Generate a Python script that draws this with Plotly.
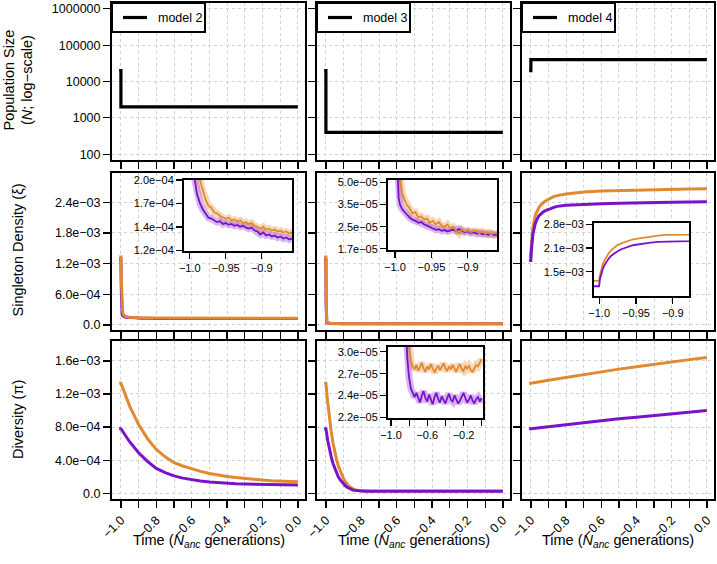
import plotly.graph_objects as go

W, H = 717, 564

# ---------------- data ----------------
model_names = ["model 2", "model 3", "model 4"]

# population size history (step function)
pop_time = [-1.01, -1.0, 0.0]
pop_m2 = [20000, 2000, 2000]
pop_m3 = [20000, 400, 400]
pop_m4 = [20000, 40000, 40000]

# singleton density, model 2
sd_time_m2 = [-1.01, -1.0, -0.998, -0.996, -0.993, -0.99, -0.986, -0.982, -0.978, -0.974,
              -0.97, -0.966, -0.962, -0.958, -0.954, -0.95, -0.946, -0.942, -0.938, -0.934,
              -0.93, -0.926, -0.922, -0.918, -0.914, -0.91, -0.906, -0.902, -0.898, -0.894,
              -0.89, -0.886, -0.882, -0.878, -0.874, -0.87, -0.866, -0.862, -0.858, -0.85,
              -0.8, -0.7, -0.6, -0.5, -0.4, -0.3, -0.2, -0.1, 0.0]
sd_orange_m2 = [1.33e-3, 1.33e-3, 9.0e-4, 5.5e-4, 3.2e-4, 2.45e-4, 2.0e-4, 1.84e-4, 1.72e-4, 1.64e-4,
                1.62e-4, 1.56e-4, 1.55e-4, 1.52e-4, 1.50e-4, 1.49e-4, 1.50e-4, 1.47e-4, 1.48e-4, 1.46e-4,
                1.47e-4, 1.44e-4, 1.45e-4, 1.43e-4, 1.44e-4, 1.41e-4, 1.40e-4, 1.38e-4, 1.40e-4, 1.37e-4,
                1.38e-4, 1.36e-4, 1.37e-4, 1.35e-4, 1.36e-4, 1.34e-4, 1.35e-4, 1.33e-4, 1.34e-4, 1.34e-4,
                1.33e-4, 1.32e-4, 1.31e-4, 1.31e-4, 1.30e-4, 1.30e-4, 1.30e-4, 1.29e-4, 1.29e-4]
sd_purple_m2 = [1.29e-3, 1.29e-3, 7.0e-4, 4.0e-4, 2.0e-4, 1.8e-4, 1.68e-4, 1.60e-4, 1.55e-4, 1.50e-4,
                1.49e-4, 1.47e-4, 1.45e-4, 1.46e-4, 1.43e-4, 1.44e-4, 1.42e-4, 1.43e-4, 1.41e-4, 1.42e-4,
                1.40e-4, 1.41e-4, 1.39e-4, 1.38e-4, 1.39e-4, 1.36e-4, 1.35e-4, 1.32e-4, 1.34e-4, 1.31e-4,
                1.32e-4, 1.30e-4, 1.31e-4, 1.29e-4, 1.30e-4, 1.28e-4, 1.29e-4, 1.27e-4, 1.28e-4, 1.28e-4,
                1.27e-4, 1.27e-4, 1.26e-4, 1.26e-4, 1.26e-4, 1.25e-4, 1.25e-4, 1.25e-4, 1.25e-4]

# singleton density, model 3
sd_time_m3 = [-1.01, -1.0, -0.999, -0.998, -0.997, -0.995, -0.993, -0.99, -0.987, -0.984,
              -0.98, -0.976, -0.972, -0.968, -0.964, -0.96, -0.956, -0.952, -0.948, -0.944,
              -0.94, -0.936, -0.932, -0.928, -0.924, -0.92, -0.916, -0.912, -0.908, -0.904,
              -0.9, -0.896, -0.892, -0.888, -0.884, -0.88, -0.876, -0.872, -0.868, -0.864,
              -0.86, -0.85, -0.8, -0.6, -0.4, -0.2, 0.0]
sd_orange_m3 = [1.33e-3, 1.33e-3, 6.0e-4, 2.5e-4, 1.2e-4, 6.5e-5, 5.0e-5, 4.2e-5, 3.8e-5, 3.5e-5,
                3.3e-5, 3.05e-5, 3.1e-5, 2.85e-5, 2.9e-5, 2.75e-5, 2.8e-5, 2.62e-5, 2.7e-5, 2.55e-5,
                2.65e-5, 2.5e-5, 2.45e-5, 2.55e-5, 2.4e-5, 2.45e-5, 2.3e-5, 2.2e-5, 2.35e-5, 2.28e-5,
                2.32e-5, 2.25e-5, 2.3e-5, 2.3e-5, 2.22e-5, 2.28e-5, 2.2e-5, 2.25e-5, 2.18e-5, 2.22e-5,
                2.2e-5, 2.2e-5, 2.15e-5, 2.1e-5, 2.08e-5, 2.05e-5, 2.05e-5]
sd_purple_m3 = [1.28e-3, 1.28e-3, 4.0e-4, 1.5e-4, 7.0e-5, 3.9e-5, 3.5e-5, 3.25e-5, 3.1e-5, 3.0e-5,
                2.85e-5, 2.75e-5, 2.7e-5, 2.62e-5, 2.65e-5, 2.55e-5, 2.5e-5, 2.45e-5, 2.4e-5, 2.34e-5,
                2.36e-5, 2.3e-5, 2.33e-5, 2.28e-5, 2.32e-5, 2.35e-5, 2.3e-5, 2.37e-5, 2.3e-5, 2.25e-5,
                2.28e-5, 2.22e-5, 2.25e-5, 2.2e-5, 2.23e-5, 2.18e-5, 2.2e-5, 2.16e-5, 2.2e-5, 2.15e-5,
                2.17e-5, 2.15e-5, 2.1e-5, 2.05e-5, 2.03e-5, 2.0e-5, 2.0e-5]

# singleton density, model 4
sd_time_m4 = [-1.01, -1.0, -0.999, -0.997, -0.995, -0.993, -0.99, -0.987, -0.984, -0.98,
              -0.975, -0.97, -0.965, -0.96, -0.955, -0.95, -0.945, -0.94, -0.93, -0.92,
              -0.91, -0.9, -0.89, -0.88, -0.87, -0.86, -0.85, -0.8, -0.75, -0.7,
              -0.6, -0.5, -0.4, -0.3, -0.2, -0.1, 0.0]
sd_orange_m4 = [1.35e-3, 1.35e-3, 1.45e-3, 1.58e-3, 1.68e-3, 1.75e-3, 1.85e-3, 1.93e-3, 2.0e-3, 2.07e-3,
                2.14e-3, 2.19e-3, 2.23e-3, 2.27e-3, 2.30e-3, 2.32e-3, 2.34e-3, 2.36e-3, 2.39e-3, 2.42e-3,
                2.44e-3, 2.46e-3, 2.47e-3, 2.49e-3, 2.51e-3, 2.52e-3, 2.53e-3, 2.56e-3, 2.58e-3, 2.60e-3,
                2.62e-3, 2.63e-3, 2.64e-3, 2.65e-3, 2.655e-3, 2.66e-3, 2.665e-3]
sd_purple_m4 = [1.26e-3, 1.26e-3, 1.38e-3, 1.50e-3, 1.58e-3, 1.65e-3, 1.73e-3, 1.80e-3, 1.86e-3, 1.92e-3,
                1.98e-3, 2.03e-3, 2.07e-3, 2.10e-3, 2.13e-3, 2.15e-3, 2.17e-3, 2.19e-3, 2.21e-3, 2.23e-3,
                2.25e-3, 2.26e-3, 2.27e-3, 2.29e-3, 2.30e-3, 2.31e-3, 2.32e-3, 2.34e-3, 2.35e-3, 2.36e-3,
                2.37e-3, 2.38e-3, 2.39e-3, 2.395e-3, 2.40e-3, 2.405e-3, 2.41e-3]

# diversity, model 2
dv_time_m2 = [-1.01, -1.0, -0.95, -0.9, -0.85, -0.8, -0.75, -0.7, -0.65, -0.6, -0.55,
              -0.5, -0.45, -0.4, -0.35, -0.3, -0.25, -0.2, -0.15, -0.1, -0.05, 0.0]
dv_orange_m2 = [1.33e-3, 1.33e-3, 1.05e-3, 8.3e-4, 6.6e-4, 5.3e-4, 4.4e-4, 3.7e-4, 3.3e-4, 2.95e-4, 2.65e-4,
                2.4e-4, 2.2e-4, 2.03e-4, 1.9e-4, 1.78e-4, 1.68e-4, 1.6e-4, 1.53e-4, 1.48e-4, 1.44e-4, 1.40e-4]
dv_purple_m2 = [7.8e-4, 7.8e-4, 6.2e-4, 4.9e-4, 3.85e-4, 3.0e-4, 2.5e-4, 2.1e-4, 1.83e-4, 1.63e-4, 1.48e-4,
                1.37e-4, 1.28e-4, 1.2e-4, 1.15e-4, 1.11e-4, 1.08e-4, 1.05e-4, 1.03e-4, 1.02e-4, 1.01e-4, 1.0e-4]

# diversity, model 3
dv_time_m3 = [-1.01, -1.0, -0.99, -0.98, -0.97, -0.96, -0.95, -0.94, -0.93, -0.92,
              -0.91, -0.9, -0.89, -0.88, -0.87, -0.86, -0.85, -0.84, -0.82, -0.8,
              -0.78, -0.76, -0.74, -0.72, -0.7, -0.68, -0.66, -0.64, -0.62, -0.6,
              -0.58, -0.56, -0.54, -0.52, -0.5, -0.48, -0.46, -0.44, -0.42, -0.4,
              -0.38, -0.36, -0.34, -0.32, -0.3, -0.28, -0.26, -0.24, -0.22, -0.2,
              -0.18, -0.16, -0.14, -0.12, -0.1, -0.08, -0.06, -0.04, -0.02, 0.0]
dv_orange_m3 = [133e-5, 133e-5, 110e-5, 90e-5, 74e-5, 61e-5, 50e-5, 41e-5, 33e-5, 27e-5,
                22e-5, 17.5e-5, 14e-5, 11e-5, 8.7e-5, 6.9e-5, 5.5e-5, 4.6e-5, 3.5e-5, 3.05e-5,
                2.88e-5, 2.80e-5, 2.76e-5, 2.82e-5, 2.74e-5, 2.79e-5, 2.85e-5, 2.77e-5, 2.73e-5, 2.80e-5,
                2.76e-5, 2.83e-5, 2.78e-5, 2.72e-5, 2.77e-5, 2.81e-5, 2.75e-5, 2.79e-5, 2.84e-5, 2.77e-5,
                2.74e-5, 2.80e-5, 2.76e-5, 2.82e-5, 2.78e-5, 2.73e-5, 2.79e-5, 2.83e-5, 2.76e-5, 2.74e-5,
                2.80e-5, 2.77e-5, 2.81e-5, 2.75e-5, 2.73e-5, 2.78e-5, 2.82e-5, 2.80e-5, 2.86e-5, 2.90e-5]
dv_purple_m3 = [78e-5, 78e-5, 64e-5, 53e-5, 44e-5, 36e-5, 30e-5, 25e-5, 20e-5, 16.5e-5,
                13.5e-5, 11e-5, 9e-5, 7.3e-5, 6.0e-5, 4.9e-5, 4.1e-5, 3.5e-5, 2.9e-5, 2.65e-5,
                2.52e-5, 2.46e-5, 2.42e-5, 2.47e-5, 2.40e-5, 2.36e-5, 2.44e-5, 2.49e-5, 2.41e-5, 2.37e-5,
                2.45e-5, 2.39e-5, 2.34e-5, 2.42e-5, 2.47e-5, 2.40e-5, 2.36e-5, 2.43e-5, 2.38e-5, 2.35e-5,
                2.41e-5, 2.46e-5, 2.39e-5, 2.37e-5, 2.44e-5, 2.40e-5, 2.35e-5, 2.38e-5, 2.43e-5, 2.47e-5,
                2.41e-5, 2.36e-5, 2.39e-5, 2.44e-5, 2.38e-5, 2.35e-5, 2.40e-5, 2.42e-5, 2.37e-5, 2.41e-5]

# diversity, model 4
dv_time_m4 = [-1.01, -1.0, -0.9, -0.8, -0.7, -0.6, -0.5, -0.4, -0.3, -0.2, -0.1, 0.0]
dv_orange_m4 = [1.33e-3, 1.33e-3, 1.365e-3, 1.40e-3, 1.435e-3, 1.47e-3, 1.50e-3, 1.53e-3, 1.56e-3, 1.59e-3, 1.615e-3, 1.64e-3]
dv_purple_m4 = [7.8e-4, 7.8e-4, 8.05e-4, 8.3e-4, 8.55e-4, 8.8e-4, 9.0e-4, 9.2e-4, 9.4e-4, 9.6e-4, 9.8e-4, 1.0e-3]

# tick labels
x_tickvals = [-1.0, -0.8, -0.6, -0.4, -0.2, 0.0]
x_ticktext = ["\u22121.0", "\u22120.8", "\u22120.6", "\u22120.4", "\u22120.2", "0.0"]
x_minor_tickvals = [-0.9, -0.7, -0.5, -0.3, -0.1]
pop_tickvals = [100, 1000, 10000, 100000, 1000000]
pop_ticktext = ["100", "1000", "10000", "100000", "1000000"]
sd_tickvals = [0, 6e-4, 1.2e-3, 1.8e-3, 2.4e-3]
sd_ticktext = ["0.0", "6.0e\u221204", "1.2e\u221203", "1.8e\u221203", "2.4e\u221203"]
dv_tickvals = [0, 4e-4, 8e-4, 1.2e-3, 1.6e-3]
dv_ticktext = ["0.0", "4.0e\u221204", "8.0e\u221204", "1.2e\u221203", "1.6e\u221203"]

# inset ticks
insA_tickvals = [1.17e-4, 1.398e-4, 1.673e-4, 2.0e-4]
insA_ticktext = ["1.2e\u221204", "1.4e\u221204", "1.7e\u221204", "2.0e\u221204"]
insB_tickvals = [1.73e-5, 2.46e-5, 3.51e-5, 5.0e-5]
insB_ticktext = ["1.7e\u221205", "2.5e\u221205", "3.5e\u221205", "5.0e\u221205"]
insC_tickvals = [1.52e-3, 2.06e-3, 2.8e-3]
insC_ticktext = ["1.5e\u221203", "2.1e\u221203", "2.8e\u221203"]
insD_tickvals = [2.2e-5, 2.44e-5, 2.705e-5, 3.0e-5]
insD_ticktext = ["2.2e\u221205", "2.4e\u221205", "2.7e\u221205", "3.0e\u221205"]
ins_x_tickvals = [-1.0, -0.95, -0.9]
ins_x_ticktext = ["\u22121.0", "\u22120.95", "\u22120.9"]
insD_x_tickvals = [-1.0, -0.6, -0.2]
insD_x_ticktext = ["\u22121.0", "\u22120.6", "\u22120.2"]
insD_x_minor = [-0.8, -0.4, 0.0]

# ---------------- styling ----------------
ORANGE = "#E1892F"
PURPLE = "#7A12C9"
ORANGE_RIB = "rgba(225,137,47,0.33)"
PURPLE_RIB = "rgba(122,18,201,0.30)"
FONT = "Liberation Sans, Arial, Helvetica, sans-serif"
GRID = "#d2d2d2"


def fx(p):
    return p / W


def fy(p):
    return 1 - p / H


col_px = [(112, 305), (317, 510), (522, 714)]
row_px = [(3, 160), (173, 330), (341, 499)]

fig = go.Figure()
layout = dict(
    width=W, height=H, autosize=False,
    margin=dict(l=0, r=0, t=0, b=0),
    paper_bgcolor="white", plot_bgcolor="white",
    font=dict(family=FONT, color="black", size=12),
    showlegend=False,
)


def ax_name(kind, n):
    return kind + ("axis" if n == 1 else "axis%d" % n)


def ref(kind, n):
    return kind if n == 1 else "%s%d" % (kind, n)


base_axis = dict(
    showline=True, mirror=True, linecolor="black", linewidth=2,
    ticks="outside", ticklen=7, tickwidth=1.3, tickcolor="black",
    showgrid=True, gridcolor=GRID, griddash="dot", gridwidth=1,
    zeroline=False, tickfont=dict(size=12.5, family=FONT, color="black"),
    fixedrange=True, automargin=False,
)

row_specs = [
    dict(type="log", range=[1.84, 6.16], tickvals=pop_tickvals, ticktext=pop_ticktext),
    dict(type="linear", range=[-1.0e-4, 2.973e-3], tickvals=sd_tickvals, ticktext=sd_ticktext),
    dict(type="linear", range=[-0.69e-4, 1.84e-3], tickvals=dv_tickvals, ticktext=dv_ticktext),
]

for r in range(3):
    for c in range(3):
        n = r * 3 + c + 1
        xa = dict(base_axis)
        xa.update(domain=[fx(col_px[c][0]), fx(col_px[c][1])], anchor=ref("y", n),
                  range=[-1.0504, 0.0404], tickmode="array", tickvals=x_tickvals, ticktext=x_ticktext,
                  tickangle=-45, showticklabels=(r == 2),
                  minor=dict(tickmode="array", tickvals=x_minor_tickvals, ticks="outside", ticklen=7,
                             tickwidth=1.3, tickcolor="black", showgrid=True, gridcolor=GRID,
                             griddash="dot", gridwidth=1))
        ya = dict(base_axis)
        ya.update(domain=[fy(row_px[r][1]), fy(row_px[r][0])], anchor=ref("x", n),
                  showticklabels=(c == 0), tickmode="array", **row_specs[r])
        layout[ax_name("x", n)] = xa
        layout[ax_name("y", n)] = ya


def add_line(n, x, y, color, width, shape="linear"):
    fig.add_trace(go.Scatter(x=x, y=y, mode="lines", xaxis=ref("x", n), yaxis=ref("y", n),
                             line=dict(color=color, width=width, shape=shape),
                             hoverinfo="skip", showlegend=False))


# row 1: population size
add_line(1, pop_time, pop_m2, "black", 3.2, "hv")
add_line(2, pop_time, pop_m3, "black", 3.2, "hv")
add_line(3, pop_time, pop_m4, "black", 3.2, "hv")

# row 2: singleton density
add_line(4, sd_time_m2, sd_purple_m2, PURPLE, 3)
add_line(4, sd_time_m2, sd_orange_m2, ORANGE, 3)
add_line(5, sd_time_m3, sd_purple_m3, PURPLE, 3)
add_line(5, sd_time_m3, sd_orange_m3, ORANGE, 3)
add_line(6, sd_time_m4, sd_orange_m4, ORANGE, 3)
add_line(6, sd_time_m4, sd_purple_m4, PURPLE, 3)

# row 3: diversity
add_line(7, dv_time_m2, dv_orange_m2, ORANGE, 3)
add_line(7, dv_time_m2, dv_purple_m2, PURPLE, 3)
add_line(8, dv_time_m3, dv_orange_m3, ORANGE, 3)
add_line(8, dv_time_m3, dv_purple_m3, PURPLE, 3)
add_line(9, dv_time_m4, dv_orange_m4, ORANGE, 3)
add_line(9, dv_time_m4, dv_purple_m4, PURPLE, 3)

# ---------------- insets ----------------
insets = [
    # n, x px, y px, xrange, yrange(log), ytickvals, yticktext, xtickvals, xticktext, xminor
    (10, (184, 292), (179.5, 250.5), [-1.008, -0.858], [-3.9325, -3.6975],
     insA_tickvals, insA_ticktext, ins_x_tickvals, ins_x_ticktext, None),
    (11, (388, 497), (180, 250), [-1.0096, -0.86], [-4.771, -4.285],
     insB_tickvals, insB_ticktext, ins_x_tickvals, ins_x_ticktext, None),
    (12, (594, 689), (223, 296), [-1.007, -0.878], [-2.954, -2.546],
     insC_tickvals, insC_ticktext, ins_x_tickvals, ins_x_ticktext, None),
    (13, (388, 483), (347, 418), [-1.033, 0.015], [-4.659, -4.513],
     insD_tickvals, insD_ticktext, insD_x_tickvals, insD_x_ticktext, insD_x_minor),
]

ins_axis = dict(
    showline=True, mirror=True, linecolor="black", linewidth=2,
    ticks="outside", ticklen=6, tickwidth=1.2, tickcolor="black",
    showgrid=False, zeroline=False, tickfont=dict(size=11, family=FONT, color="black"),
    fixedrange=True, automargin=False,
)

shapes = []
for (n, xp, yp, xr, yr, ytv, ytt, xtv, xtt, xminor) in insets:
    xa = dict(ins_axis)
    xa.update(domain=[fx(xp[0]), fx(xp[1])], anchor=ref("y", n), range=xr,
              tickmode="array", tickvals=xtv, ticktext=xtt, tickangle=0)
    if xminor is not None:
        xa["minor"] = dict(tickmode="array", tickvals=xminor, ticks="outside", ticklen=6,
                           tickwidth=1.2, tickcolor="black", showgrid=False)
    ya = dict(ins_axis)
    ya.update(domain=[fy(yp[1]), fy(yp[0])], anchor=ref("x", n), type="log", range=yr,
              tickmode="array", tickvals=ytv, ticktext=ytt)
    layout[ax_name("x", n)] = xa
    layout[ax_name("y", n)] = ya
    shapes.append(dict(type="rect", xref=ref("x", n) + " domain", yref=ref("y", n) + " domain",
                       x0=0, x1=1, y0=0, y1=1, fillcolor="white", line=dict(width=0),
                       layer="below"))

# inset A: model 2 singleton density
add_line(10, sd_time_m2, sd_orange_m2, ORANGE_RIB, 7)
add_line(10, sd_time_m2, sd_purple_m2, PURPLE_RIB, 7)
add_line(10, sd_time_m2, sd_purple_m2, PURPLE, 1.8)
add_line(10, sd_time_m2, sd_orange_m2, ORANGE, 1.8)
# inset B: model 3 singleton density
add_line(11, sd_time_m3, sd_orange_m3, ORANGE_RIB, 7)
add_line(11, sd_time_m3, sd_purple_m3, PURPLE_RIB, 7)
add_line(11, sd_time_m3, sd_purple_m3, PURPLE, 1.8)
add_line(11, sd_time_m3, sd_orange_m3, ORANGE, 1.8)
# inset C: model 4 singleton density
add_line(12, sd_time_m4, sd_orange_m4, ORANGE, 1.8)
add_line(12, sd_time_m4, sd_purple_m4, PURPLE, 1.8)
# inset D: model 3 diversity
add_line(13, dv_time_m3, dv_orange_m3, ORANGE_RIB, 7)
add_line(13, dv_time_m3, dv_purple_m3, PURPLE_RIB, 7)
add_line(13, dv_time_m3, dv_purple_m3, PURPLE, 1.8)
add_line(13, dv_time_m3, dv_orange_m3, ORANGE, 1.8)

# ---------------- legends (top row) ----------------
annotations = []
for c in range(3):
    x0 = col_px[c][0]
    shapes.append(dict(type="rect", xref="paper", yref="paper",
                       x0=fx(x0), x1=fx(x0 + 93), y0=fy(32), y1=fy(3),
                       fillcolor="white", line=dict(color="black", width=2), layer="above"))
    shapes.append(dict(type="line", xref="paper", yref="paper",
                       x0=fx(x0 + 11), x1=fx(x0 + 35), y0=fy(17.5), y1=fy(17.5),
                       line=dict(color="black", width=3.2), layer="above"))
    annotations.append(dict(text=model_names[c], xref="paper", yref="paper",
                            x=fx(x0 + 44), y=fy(17.5), xanchor="left", yanchor="middle",
                            showarrow=False, font=dict(size=12.5, family=FONT, color="black")))

# ---------------- axis titles ----------------
TITLE_FONT = dict(size=14.5, family=FONT, color="black")
for c in range(3):
    annotations.append(dict(text="Time (<i>N</i><sub><i>anc</i></sub> generations)",
                            xref="paper", yref="paper",
                            x=fx((col_px[c][0] + col_px[c][1]) / 2), y=fy(541),
                            xanchor="center", yanchor="middle", showarrow=False, font=TITLE_FONT))

annotations.append(dict(text="Population Size<br>(<i>N</i>; log\u2212scale)", xref="paper", yref="paper",
                        x=fx(18.5), y=fy(80), xanchor="center", yanchor="middle", textangle=-90,
                        showarrow=False, font=TITLE_FONT))
annotations.append(dict(text="Singleton Density (\u03be)", xref="paper", yref="paper",
                        x=fx(17.5), y=fy(250), xanchor="center", yanchor="middle", textangle=-90,
                        showarrow=False, font=TITLE_FONT))
annotations.append(dict(text="Diversity (\u03c0)", xref="paper", yref="paper",
                        x=fx(18), y=fy(420), xanchor="center", yanchor="middle", textangle=-90,
                        showarrow=False, font=TITLE_FONT))

layout["shapes"] = shapes
layout["annotations"] = annotations
fig.update_layout(**layout)

fig.write_html("out.html", config={"displayModeBar": False, "staticPlot": True},
               post_script="document.body.style.margin='0px';document.body.style.overflow='hidden';")
